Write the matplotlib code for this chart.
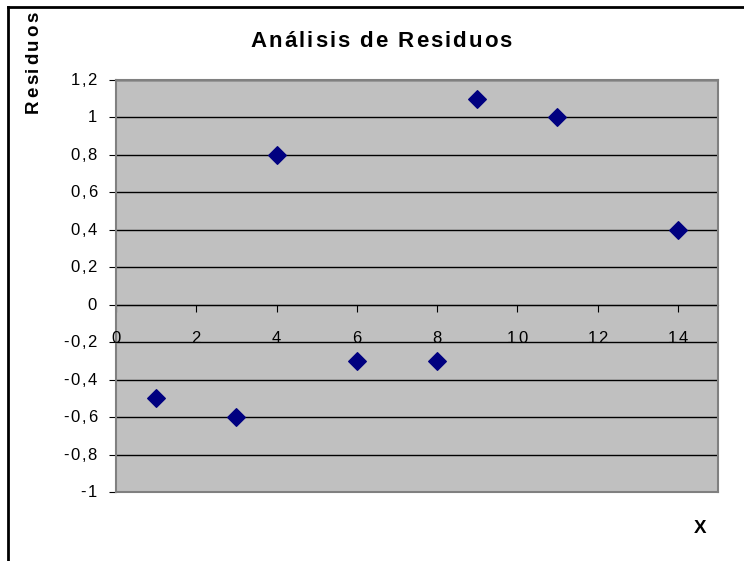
import matplotlib.pyplot as plt
from matplotlib.lines import Line2D
from matplotlib.font_manager import FontProperties

plt.rcParams['font.family'] = ['Liberation Sans', 'DejaVu Sans']

# residuals
x = [1, 3, 4, 6, 8, 9, 11, 14]
residuos = [-0.5, -0.6, 0.8, -0.3, -0.3, 1.1, 1.0, 0.4]
yticks = [-1, -0.8, -0.6, -0.4, -0.2, 0, 0.2, 0.4, 0.6, 0.8, 1, 1.2]
xticks = [0, 2, 4, 6, 8, 10, 12, 14]
titulo = 'Análisis de Residuos'
ylabel = 'Residuos'
xlabel = 'X'

W, H = 744, 561
fig = plt.figure(figsize=(W / 100, H / 100), dpi=100)
ax = fig.add_axes([116 / W, 1 - 492 / H, (718 - 116) / W, (492 - 80) / H])
ax.set_facecolor('#C0C0C0')
rend = fig.canvas.get_renderer()


def spaced(xp, yp, s, size, gap, ha='center', weight='normal', rotation=0):
    # excel spreads its letters out, so lay them out one by one (pixels, y up)
    fp = FontProperties(family=['Liberation Sans', 'DejaVu Sans'], size=size, weight=weight)
    base = rend.get_text_width_height_descent('xx', fp, ismath=False)[0]
    ws = [rend.get_text_width_height_descent('x' + c + 'x', fp, ismath=False)[0] - base for c in s]
    total = sum(ws) + gap * (len(s) - 1)
    pos = {'center': -total / 2, 'right': -total, 'left': 0}[ha]
    for c, w in zip(s, ws):
        if rotation == 90:
            fig.text(xp, yp + pos, c, fontproperties=fp, transform=None, rotation=90,
                     rotation_mode='anchor', ha='left', va='baseline')
        else:
            fig.text(xp + pos, yp, c, fontproperties=fp, transform=None,
                     ha='left', va='baseline')
        pos += w + gap


ax.scatter(x, residuos, marker='D', s=80, color='#000080', zorder=3)

ax.set_xlim(0, 15)
ax.set_ylim(-1, 1.2)
ax.set_yticks(yticks)
ax.set_xticks(xticks)
ax.set_yticklabels([])
ax.set_xticklabels([])
ax.yaxis.grid(True, color='black', linewidth=1)
ax.set_axisbelow(True)

# x axis sits on y = 0
ax.spines['bottom'].set_position(('data', 0))
ax.spines['bottom'].set_color('black')
ax.spines['bottom'].set_zorder(2)
for s in ['left', 'right', 'top']:
    ax.spines[s].set_color('#808080')
    ax.spines[s].set_linewidth(1.5)
ax.tick_params(axis='both', direction='out', length=5, color='black')
ax.plot([0, 15], [-1, -1], color='#808080', lw=1.5, clip_on=False, zorder=2)

# tick labels, placed from the data transform
for v in yticks:
    px, py = ax.transData.transform((0, v))
    spaced(97, py - 5, ('%g' % v).replace('.', ','), 12, 1.8, ha='right')
for v in xticks:
    px, py = ax.transData.transform((v, 0))
    spaced(px, H - 343, str(v), 12, 1.8, ha='center')

spaced(381, H - 47, titulo, 16, 2.0, ha='center', weight='bold')
spaced(38, H - 113, ylabel, 13.5, 2.4, ha='left', weight='bold', rotation=90)
spaced(700, H - 533, xlabel, 13.5, 0, ha='center', weight='bold')

# chart border, only the top and left edges are inside the picture
fig.add_artist(Line2D([8 / W, 8 / W], [0, 1 - 7 / H], color='black', lw=2,
                      transform=fig.transFigure))
fig.add_artist(Line2D([8 / W, 1], [1 - 7 / H, 1 - 7 / H], color='black', lw=2,
                      transform=fig.transFigure))

fig.savefig('out.png', dpi=100)
